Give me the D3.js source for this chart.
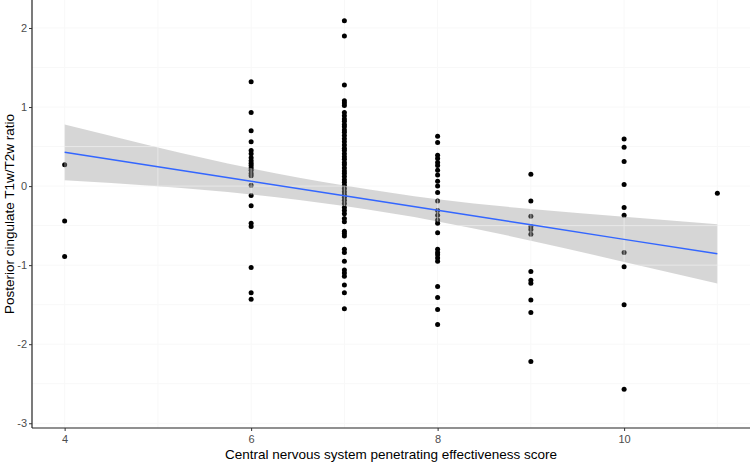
<!DOCTYPE html>
<html>
<head>
<meta charset="utf-8">
<script src="https://cdn.jsdelivr.net/npm/d3@7"></script>
<style>
  body { margin: 0; background: #fff; }
  text { font-family: "Liberation Sans", Arial, sans-serif; }
</style>
</head>
<body>
<div class="graphContainer"></div>
<script>
var width = 750;
var height = 464;

// values, one array per score
var scores = [4, 6, 7, 8, 9, 10, 11];
var ratios4 = [0.27, -0.44, -0.89];
var ratios6 = [1.32, 0.93, 0.70, 0.56, 0.45, 0.41, 0.36, 0.32, 0.29, 0.26, 0.23, 0.20,
  0.16, 0.13, 0.01, -0.12, -0.25, -0.47, -0.51, -1.03, -1.35, -1.43];
var ratios7 = [2.09, 1.90, 1.28, 1.08, 1.05, 1.02, 0.93, 0.89, 0.85, 0.82, 0.78, 0.75,
  0.71, 0.68, 0.64, 0.60, 0.56, 0.52, 0.48, 0.45, 0.41, 0.37, 0.34, 0.30, 0.27, 0.23,
  0.19, 0.16, 0.12, 0.08, 0.05, 0.01, -0.03, -0.07, -0.11, -0.14, -0.18, -0.22, -0.27,
  -0.31, -0.35, -0.41, -0.45, -0.57, -0.60, -0.63, -0.80, -0.84, -0.95, -1.06, -1.10,
  -1.14, -1.25, -1.35, -1.55];
var ratios8 = [0.63, 0.55, 0.39, 0.35, 0.30, 0.26, 0.20, 0.14, 0.06, 0.00, -0.08, -0.19,
  -0.31, -0.37, -0.43, -0.47, -0.59, -0.80, -0.84, -0.87, -0.91, -0.95, -1.27, -1.41,
  -1.56, -1.75];
var ratios9 = [0.15, -0.19, -0.38, -0.51, -0.55, -0.61, -1.08, -1.19, -1.23, -1.44, -1.60, -2.22];
var ratios10 = [0.595, 0.49, 0.31, 0.02, -0.27, -0.37, -0.84, -1.02, -1.50, -2.57];
var ratios11 = [-0.09];

// fitted line and its band, read at each integer score
var fitX = [4, 5, 6, 7, 8, 9, 10, 11];
var fitY = [0.427, 0.244, 0.06, -0.123, -0.307, -0.49, -0.674, -0.857];
var fitLower = [0.075, -0.001, -0.105, -0.253, -0.447, -0.69, -0.959, -1.232];
var fitUpper = [0.779, 0.489, 0.225, 0.007, -0.167, -0.29, -0.389, -0.482];

var xTicks = [4, 6, 8, 10];
var yTicks = [-3, -2, -1, 0, 1, 2];

var allRatios = [ratios4, ratios6, ratios7, ratios8, ratios9, ratios10, ratios11];
var points = [];
scores.forEach(function (s, i) {
  allRatios[i].forEach(function (r) { points.push({ x: s, y: r }); });
});
var fit = fitX.map(function (x, i) {
  return { x: x, y: fitY[i], lo: fitLower[i], hi: fitUpper[i] };
});

var svg = d3.select(".graphContainer").append("svg")
  .attr("width", width)
  .attr("height", height);

var panelLeft = 32, panelRight = 750, panelTop = 0, panelBottom = 428;

var xScale = d3.scaleLinear().domain([3.65, 11.35]).range([panelLeft, panelRight]);
var yScale = d3.scaleLinear().domain([-3.06, 2.354]).range([panelBottom, panelTop]);

// faint grid
var gridX = [4, 5, 6, 7, 8, 9, 10, 11];
var gridY = [-3, -2.5, -2, -1.5, -1, -0.5, 0, 0.5, 1, 1.5, 2];
function drawGrid(g, color) {
  g.selectAll(".gx").data(gridX).enter().append("line")
    .attr("x1", d => xScale(d)).attr("x2", d => xScale(d))
    .attr("y1", panelTop).attr("y2", panelBottom)
    .attr("stroke", color).attr("stroke-width", 1);
  g.selectAll(".gy").data(gridY).enter().append("line")
    .attr("x1", panelLeft).attr("x2", panelRight)
    .attr("y1", d => yScale(d)).attr("y2", d => yScale(d))
    .attr("stroke", color).attr("stroke-width", 1);
}
drawGrid(svg.append("g"), "#f8f8f8");

// points
svg.append("g").selectAll("circle")
  .data(points)
  .enter()
  .append("circle")
  .attr("cx", d => xScale(d.x))
  .attr("cy", d => yScale(d.y))
  .attr("r", 2.5)
  .style("fill", "#000");

// confidence band
var area = d3.area()
  .x(d => xScale(d.x))
  .y0(d => yScale(d.lo))
  .y1(d => yScale(d.hi))
  .curve(d3.curveNatural);

svg.append("defs").append("clipPath").attr("id", "band")
  .append("path").attr("d", area(fit));

svg.append("path")
  .attr("d", area(fit))
  .style("fill", "#999999")
  .style("fill-opacity", 0.4);

drawGrid(svg.append("g").attr("clip-path", "url(#band)").attr("opacity", 0.5), "#ffffff");

// fitted line
svg.append("path")
  .attr("d", d3.line().x(d => xScale(d.x)).y(d => yScale(d.y))(fit))
  .style("fill", "none")
  .style("stroke", "#3366FF")
  .style("stroke-width", 1.5);

// axes
var xAxis = d3.axisBottom(xScale).tickValues(xTicks).tickFormat(d => String(d))
  .tickSize(3).tickPadding(4);
var yAxis = d3.axisLeft(yScale).tickValues(yTicks).tickFormat(d => String(d))
  .tickSize(3).tickPadding(2);

var xAxisGroup = svg.append("g")
  .attr("transform", "translate(0," + panelBottom + ")")
  .call(xAxis);
var yAxisGroup = svg.append("g")
  .attr("transform", "translate(" + panelLeft + ",0)")
  .call(yAxis);

[xAxisGroup, yAxisGroup].forEach(function (g) {
  g.select(".domain").attr("stroke", "#222").attr("stroke-width", 1.2);
  g.selectAll(".tick line").attr("stroke", "#333");
  g.selectAll(".tick text")
    .style("font-size", "11px")
    .style("fill", "#4d4d4d");
});
xAxisGroup.select(".domain").attr("d", "M" + panelLeft + ",0H" + panelRight);
yAxisGroup.select(".domain").attr("d", "M0," + panelTop + "V" + panelBottom);

// titles
svg.append("text")
  .attr("x", (panelLeft + panelRight) / 2)
  .attr("y", 459)
  .attr("text-anchor", "middle")
  .style("font-size", "13.5px")
  .style("fill", "#000")
  .text("Central nervous system penetrating effectiveness score");

svg.append("text")
  .attr("transform", "translate(14," + (panelTop + panelBottom) / 2 + ") rotate(-90)")
  .attr("text-anchor", "middle")
  .style("font-size", "13.5px")
  .style("fill", "#000")
  .text("Posterior cingulate T1w/T2w ratio");
</script>
</body>
</html>
